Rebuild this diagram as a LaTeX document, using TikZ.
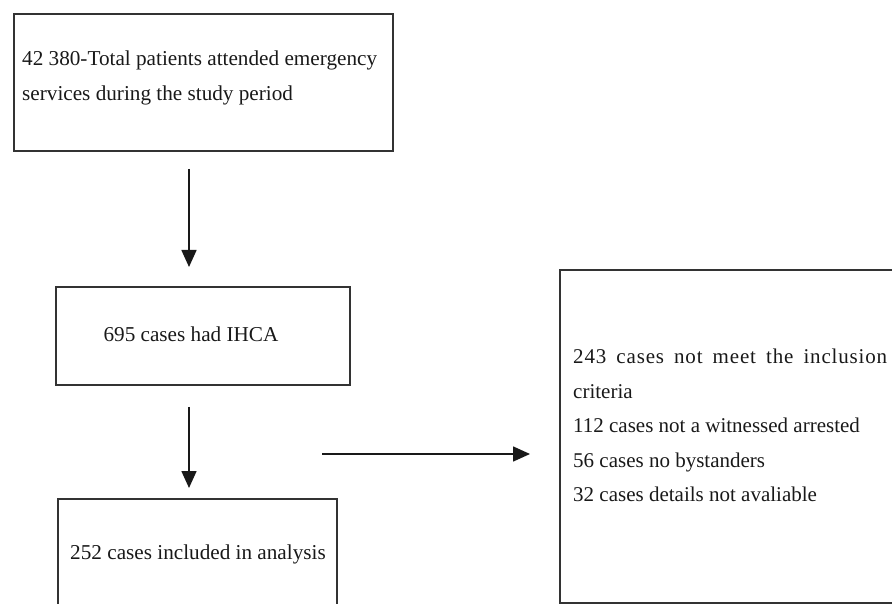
\documentclass[tikz,border=0pt]{standalone}
\usepackage{fontspec}
\setmainfont{Liberation Serif}
\usetikzlibrary{arrows.meta}

\begin{document}
\begin{tikzpicture}[x=1pt, y=-1pt,
    box/.style={draw=black!80, line width=1.8pt, anchor=north west, inner sep=0pt},
    txt/.style={anchor=north west, inner sep=0pt, align=left, text=black!90,
        font=\fontsize{21.2}{35}\selectfont},
    flow/.style={-{Triangle[width=15pt,length=17pt]}, line width=1.6pt, draw=black!90}]

\useasboundingbox (0,0) rectangle (892,604);

% draw the boxes
\node[box, minimum width=379pt, minimum height=137pt] (total) at (13,13) {};
\node[box, minimum width=294pt, minimum height=98pt] (ihca) at (55,286) {};
\node[box, minimum width=279pt, minimum height=110pt] (analysis) at (57,498) {};
\node[box, minimum width=360pt, minimum height=333pt] (excluded) at (559,269) {};

% texts inside
\node[txt] (total text) at (22,51) {42 380-Total patients attended emergency\\services during the study period};
\node[txt, anchor=center] (ihca text) at (191,334) {695 cases had IHCA};
\node[txt, anchor=center] (analysis text) at (198,554) {252 cases included in analysis};
\node[txt, font=\fontsize{21}{34.5}\selectfont] (excluded text) at (573,349)
    {\makebox[314pt][s]{\addfontfeature{LetterSpace=4}243 cases not meet the inclusion}\\criteria\\112 cases not a witnessed arrested\\56 cases no bystanders\\32 cases details not avaliable};

% arrows
\coordinate (spine) at (189,0);
\coordinate (split) at (322,454);

\draw[flow, shorten <=17pt, shorten >=19pt] (spine |- total.south) -- (spine |- ihca.north);
\draw[flow, shorten <=21pt, shorten >=10pt] (spine |- ihca.south) -- (spine |- analysis.north);
\draw[flow, shorten >=29pt] (split) -- (excluded.west |- split);

\end{tikzpicture}
\end{document}
